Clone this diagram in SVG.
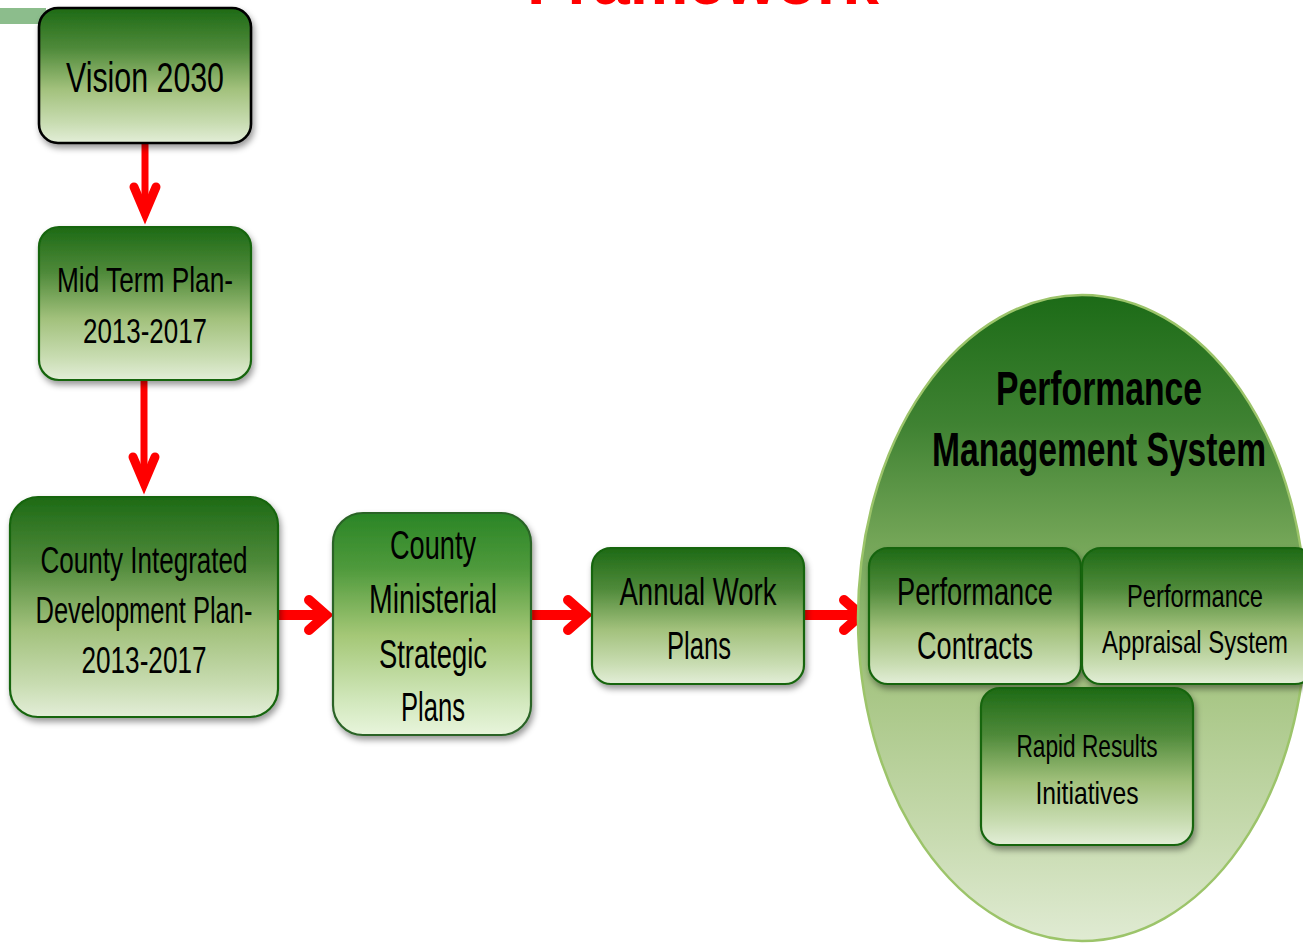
<svg xmlns="http://www.w3.org/2000/svg" width="1303" height="943" viewBox="0 0 1303 943">
<defs>
<linearGradient id="gBox" x1="0" y1="0" x2="0" y2="1">
<stop offset="0" stop-color="#1d6a15"/>
<stop offset="0.3" stop-color="#4f8a3a"/>
<stop offset="0.6" stop-color="#a2c17c"/>
<stop offset="0.85" stop-color="#c8dcb1"/>
<stop offset="1" stop-color="#e3eed8"/>
</linearGradient>
<linearGradient id="gBright" x1="0" y1="0" x2="0" y2="1">
<stop offset="0" stop-color="#2a8526"/>
<stop offset="0.25" stop-color="#4f9a3c"/>
<stop offset="0.55" stop-color="#a4c776"/>
<stop offset="0.85" stop-color="#d2e8bd"/>
<stop offset="1" stop-color="#e8f5dc"/>
</linearGradient>
<linearGradient id="gEll" x1="0" y1="0" x2="0" y2="1">
<stop offset="0" stop-color="#1c6b17"/>
<stop offset="0.2" stop-color="#3f8232"/>
<stop offset="0.38" stop-color="#73a557"/>
<stop offset="0.6" stop-color="#a6c583"/>
<stop offset="0.8" stop-color="#c2d7a8"/>
<stop offset="1" stop-color="#e0ebd3"/>
</linearGradient>
<filter id="shadow" x="-10%" y="-10%" width="130%" height="130%">
<feDropShadow dx="2" dy="4" stdDeviation="3" flood-color="#000" flood-opacity="0.4"/>
</filter>
<marker id="chevV" markerUnits="userSpaceOnUse" orient="auto" overflow="visible" markerWidth="1" markerHeight="1" refX="0" refY="0">
<path d="M-28,-11 L-2,0 L-28,11" fill="none" stroke="#ff0000" stroke-width="9" stroke-linecap="round" stroke-linejoin="miter" stroke-miterlimit="10"/>
</marker>
<marker id="chevH" markerUnits="userSpaceOnUse" orient="auto" overflow="visible" markerWidth="1" markerHeight="1" refX="0" refY="0">
<path d="M-16,-15 L1,0 L-16,15" fill="none" stroke="#ff0000" stroke-width="10" stroke-linecap="round" stroke-linejoin="miter" stroke-miterlimit="10"/>
</marker>
</defs>
<style>
.box{fill:url(#gBox);stroke:#17650f;stroke-width:2.2;filter:url(#shadow)}
.t{font-family:"Liberation Sans",Arial,sans-serif;fill:#000;text-anchor:middle}
.title{font-family:"Liberation Sans",Arial,sans-serif;font-weight:bold;fill:#000;text-anchor:middle}
.conV{fill:none;stroke:#ff0000;stroke-width:7;marker-end:url(#chevV)}
.conH{fill:none;stroke:#ff0000;stroke-width:10;marker-end:url(#chevH)}
</style>
<rect width="1303" height="943" fill="#ffffff"/>
<rect x="0" y="8" width="46" height="16" fill="#8cbd8c"/>
<text x="527" y="4" font-family="Liberation Sans,Arial,sans-serif" font-weight="bold" font-size="66" fill="#ff0000" textLength="352" lengthAdjust="spacingAndGlyphs">Framework</text>

<g id="connectors">
<path class="conV" d="M145,143 L145,215"/>
<path class="conV" d="M144,380 L144,485"/>
<path class="conH" d="M278,615 L325,615"/>
<path class="conH" d="M530,615 L584,615"/>
<path class="conH" d="M804,615 L860,615"/>
</g>

<g id="vision">
<rect class="box" x="39" y="8" width="212" height="135" rx="19" style="stroke:#000;stroke-width:2.6"/>
<text class="t" x="145" y="92" font-size="42" textLength="158" lengthAdjust="spacingAndGlyphs">Vision 2030</text>
</g>

<g id="midterm">
<rect class="box" x="39" y="227" width="212" height="153" rx="20"/>
<text class="t" x="145" y="292" font-size="35" textLength="176" lengthAdjust="spacingAndGlyphs">Mid Term Plan-</text>
<text class="t" x="145" y="343" font-size="35" textLength="124" lengthAdjust="spacingAndGlyphs">2013-2017</text>
</g>

<g id="cidp">
<rect class="box" x="10" y="497" width="268" height="220" rx="28"/>
<text class="t" x="144" y="573" font-size="37" textLength="207" lengthAdjust="spacingAndGlyphs">County Integrated</text>
<text class="t" x="144" y="623" font-size="37" textLength="217" lengthAdjust="spacingAndGlyphs">Development Plan-</text>
<text class="t" x="144" y="673" font-size="37" textLength="125" lengthAdjust="spacingAndGlyphs">2013-2017</text>
</g>

<g id="ministerial">
<rect class="box" x="333" y="513" width="198" height="222" rx="30" style="fill:url(#gBright);stroke:#2a6326"/>
<text class="t" x="433" y="559" font-size="40" textLength="86" lengthAdjust="spacingAndGlyphs">County</text>
<text class="t" x="433" y="613" font-size="40" textLength="128" lengthAdjust="spacingAndGlyphs">Ministerial</text>
<text class="t" x="433" y="668" font-size="40" textLength="108" lengthAdjust="spacingAndGlyphs">Strategic</text>
<text class="t" x="433" y="721" font-size="40" textLength="64" lengthAdjust="spacingAndGlyphs">Plans</text>
</g>

<g id="annual">
<rect class="box" x="592" y="548" width="212" height="136" rx="19"/>
<text class="t" x="698" y="605" font-size="38" textLength="157" lengthAdjust="spacingAndGlyphs">Annual Work</text>
<text class="t" x="699" y="659" font-size="38" textLength="64" lengthAdjust="spacingAndGlyphs">Plans</text>
</g>

<g id="pms">
<ellipse cx="1082" cy="618" rx="224" ry="323" fill="url(#gEll)" stroke="#9cc46a" stroke-width="2.5"/>
<text class="title" x="1099" y="405" font-size="48" textLength="206" lengthAdjust="spacingAndGlyphs">Performance</text>
<text class="title" x="1099" y="466" font-size="48" textLength="334" lengthAdjust="spacingAndGlyphs">Management System</text>
</g>

<g id="contracts">
<rect class="box" x="869" y="548" width="212" height="136" rx="19"/>
<text class="t" x="975" y="605" font-size="38" textLength="156" lengthAdjust="spacingAndGlyphs">Performance</text>
<text class="t" x="975" y="659" font-size="38" textLength="116" lengthAdjust="spacingAndGlyphs">Contracts</text>
</g>

<g id="appraisal">
<rect class="box" x="1082" y="548" width="232" height="136" rx="19"/>
<text class="t" x="1195" y="607" font-size="32" textLength="136" lengthAdjust="spacingAndGlyphs">Performance</text>
<text class="t" x="1195" y="653" font-size="32" textLength="186" lengthAdjust="spacingAndGlyphs">Appraisal  System</text>
</g>

<g id="rapid">
<rect class="box" x="981" y="688" width="212" height="157" rx="19"/>
<text class="t" x="1087" y="757" font-size="32" textLength="141" lengthAdjust="spacingAndGlyphs">Rapid Results</text>
<text class="t" x="1087" y="804" font-size="32" textLength="103" lengthAdjust="spacingAndGlyphs">Initiatives</text>
</g>
</svg>
